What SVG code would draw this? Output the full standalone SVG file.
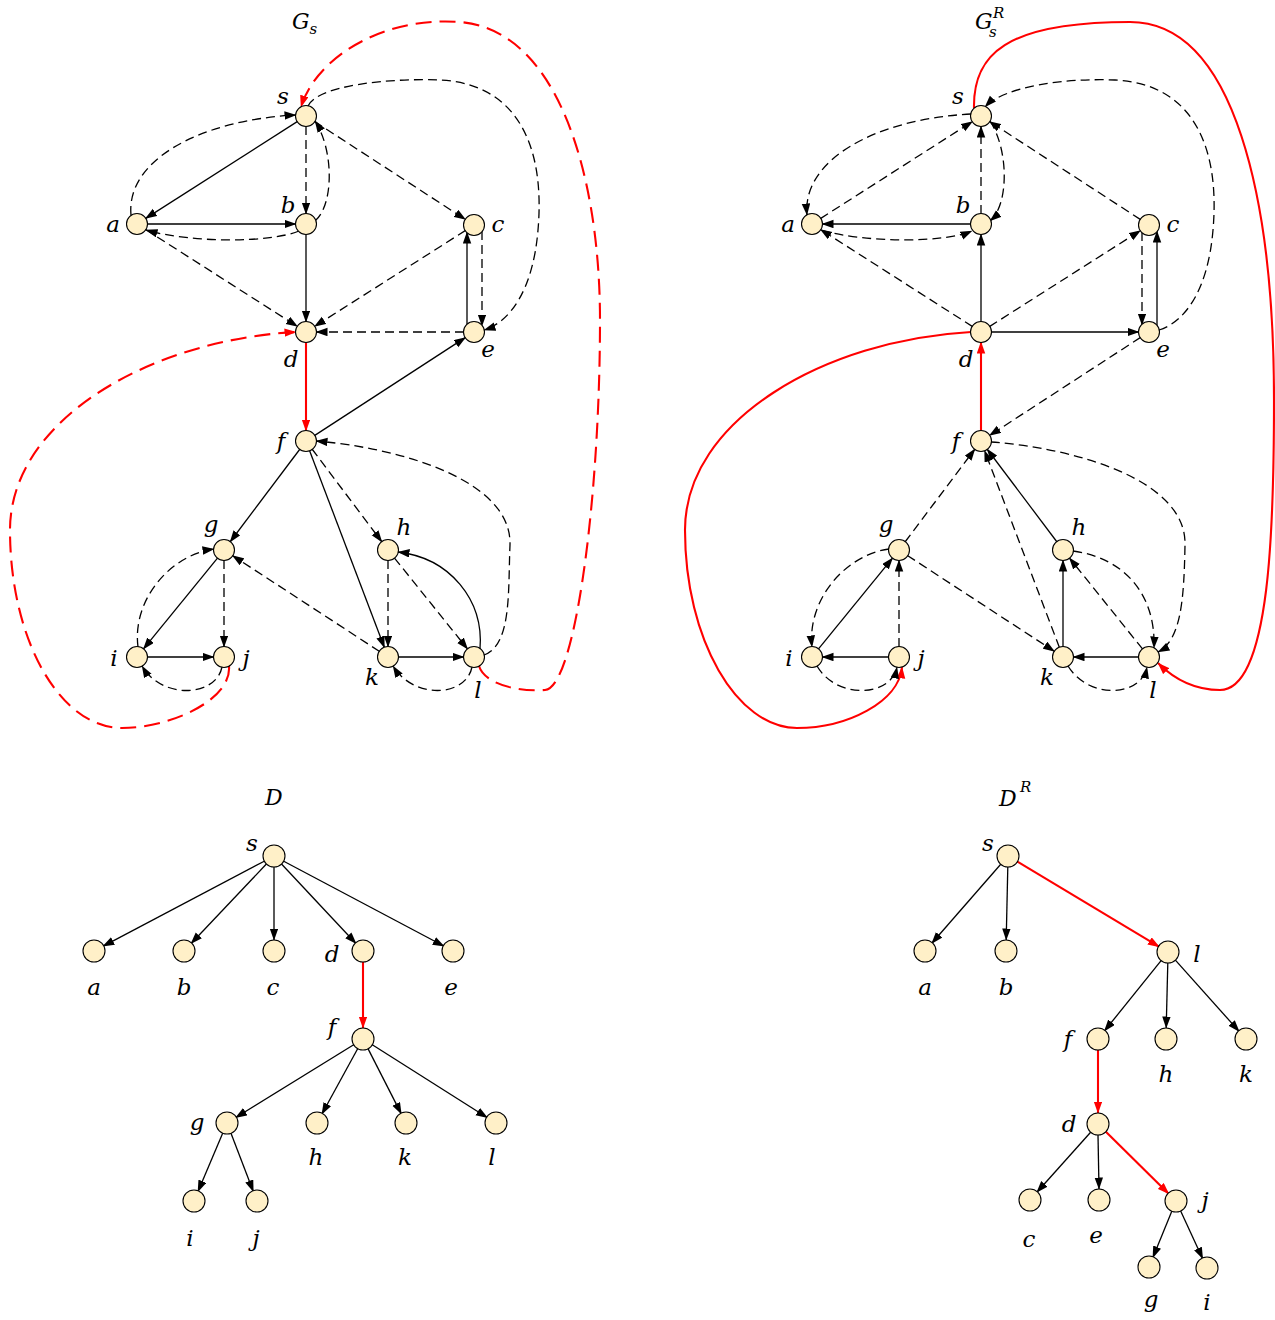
<svg xmlns="http://www.w3.org/2000/svg" width="1275" height="1320" viewBox="0 0 1275 1320">
<style>
.n circle{fill:#fff0c8;stroke:#000;stroke-width:1.1}
.lb{font-family:"DejaVu Serif",serif;font-style:italic;font-size:23px;fill:#000;text-anchor:middle}
.tt{font-family:"DejaVu Serif",serif;font-style:italic;fill:#000}
.e{fill:none;stroke:#000;stroke-width:1.3;marker-end:url(#ah)}
.d{stroke-dasharray:9 5}
.r{stroke:#f00;stroke-width:2.1;marker-end:url(#ahr)}
.rd{stroke-dasharray:16 8}
</style>
<defs>
<marker id="ah" markerUnits="userSpaceOnUse" markerWidth="13" markerHeight="9" refX="11.5" refY="4.25" orient="auto"><path d="M0,0 L12,4.25 L0,8.5 z" fill="#000" stroke="none"/></marker>
<marker id="ahr" markerUnits="userSpaceOnUse" markerWidth="13" markerHeight="9" refX="11.5" refY="4.25" orient="auto"><path d="M0,0 L12,4.25 L0,8.5 z" fill="#f00" stroke="none"/></marker>
</defs>

<!-- ============ G_s ============ -->
<g id="Gs">
<text class="tt" x="292" y="29" font-size="22">G<tspan font-size="15" dy="5">s</tspan></text>
<g id="Gs-edges">
<path class="e" d="M297.6,121.4 L145.4,218.6"/>
<path class="e" d="M147,224 L296,224"/>
<path class="e" d="M306,234 L306,322"/>
<path class="e" d="M314.4,435.6 L465.6,337.4"/>
<path class="e" d="M467,324.9 L467,232.1"/>
<path class="e" d="M300,449 L230,542"/>
<path class="e" d="M309.5,450.4 L384.5,647.7"/>
<path class="e" d="M217.7,557.8 L143.3,649.2"/>
<path class="e" d="M147,657 L214,657"/>
<path class="e" d="M398,657 L464,657"/>
<path class="e" d="M480,649 C484,600 450,558 398,552"/>
<path class="e r" d="M306,342 L306,431"/>
<path class="e d" d="M306,126 L306,214"/>
<path class="e d" d="M314.4,121.4 L465.6,219.6"/>
<path class="e d" d="M145.4,229.4 L297.6,326.6"/>
<path class="e d" d="M465.6,230.4 L314.4,326.6"/>
<path class="e d" d="M464,332 L316,332"/>
<path class="e d" d="M482,231 L482,326"/>
<path class="e d" d="M312,449 L382,542"/>
<path class="e d" d="M388,560 L388,647"/>
<path class="e d" d="M394.3,557.8 L467.7,649.2"/>
<path class="e d" d="M379.6,651.5 L232.4,555.5"/>
<path class="e d" d="M224,560 L224,647"/>
<path class="e d" d="M131,215 C126,160 200,120 296,115"/>
<path class="e d" d="M315,221 C334,205 334,150 315,121"/>
<path class="e d" d="M299,231 C270,243 190,243 146,230"/>
<path class="e d" d="M308,106 C318,85 390,78 440,80 C520,84 545,150 538,230 C533,290 510,322 484,330"/>
<path class="e d" d="M484,655 C512,645 508,590 510,545 C512,480 400,448 316,441"/>
<path class="e d" d="M472,667 C466,697 414,700 393,666"/>
<path class="e d" d="M138,647 C132,600 170,555 214,549"/>
<path class="e d" d="M222,667 C216,697 162,700 142,666"/>
<path class="e r rd" d="M229,666 C232,700 170,728 122,728 C60,728 10,640 10,530 C10,420 150,340 296,332"/>
<path class="e r rd" d="M479,666 C485,685 520,692 545,690 C575,688 600,500 600,320 C600,180 560,30 460,22 C380,16 315,60 301,107"/>
</g>
<g id="Gs-s" class="n"><circle cx="306" cy="116" r="10.5"/><text class="lb" x="283" y="104">s</text></g>
<g id="Gs-a" class="n"><circle cx="137" cy="224" r="10.5"/><text class="lb" x="113" y="232">a</text></g>
<g id="Gs-b" class="n"><circle cx="306" cy="224" r="10.5"/><text class="lb" x="288" y="213">b</text></g>
<g id="Gs-c" class="n"><circle cx="474" cy="225" r="10.5"/><text class="lb" x="498" y="232">c</text></g>
<g id="Gs-d" class="n"><circle cx="306" cy="332" r="10.5"/><text class="lb" x="291" y="367">d</text></g>
<g id="Gs-e" class="n"><circle cx="474" cy="332" r="10.5"/><text class="lb" x="488" y="357">e</text></g>
<g id="Gs-f" class="n"><circle cx="306" cy="441" r="10.5"/><text class="lb" x="281" y="449">f</text></g>
<g id="Gs-g" class="n"><circle cx="224" cy="550" r="10.5"/><text class="lb" x="211" y="532">g</text></g>
<g id="Gs-h" class="n"><circle cx="388" cy="550" r="10.5"/><text class="lb" x="404" y="535">h</text></g>
<g id="Gs-i" class="n"><circle cx="137" cy="657" r="10.5"/><text class="lb" x="114" y="666">i</text></g>
<g id="Gs-j" class="n"><circle cx="224" cy="657" r="10.5"/><text class="lb" x="246" y="666">j</text></g>
<g id="Gs-k" class="n"><circle cx="388" cy="657" r="10.5"/><text class="lb" x="372" y="685">k</text></g>
<g id="Gs-l" class="n"><circle cx="474" cy="657" r="10.5"/><text class="lb" x="478" y="698">l</text></g>
</g>

<!-- ============ G_s^R ============ -->
<g id="GsR" transform="translate(675,0)">
<text class="tt" x="300" y="29" font-size="22">G<tspan x="314" y="37" font-size="15">s</tspan><tspan x="318" y="18" font-size="15">R</tspan></text>
<g id="GsR-edges">
<path class="e" d="M296,224 L147,224"/>
<path class="e" d="M306,322 L306,234"/>
<path class="e" d="M316,332 L464,332"/>
<path class="e" d="M482,326 L482,231"/>
<path class="e" d="M382,542 L312,449"/>
<path class="e" d="M143.3,649.2 L217.7,557.8"/>
<path class="e" d="M214,657 L147,657"/>
<path class="e" d="M388,647 L388,560"/>
<path class="e" d="M464,657 L398,657"/>
<path class="e r" d="M306,431 L306,342"/>
<path class="e r" d="M299,108 C298,55 330,22 455,22 C560,22 599,200 599,400 C599,520 596,690 545,690 C520,690 500,680 483,663"/>
<path class="e r" d="M296,332 C150,340 10,420 10,530 C10,640 62,728 122,728 C172,728 224,702 227,667"/>
<path class="e d" d="M296,114 C200,119 127,160 132,215"/>
<path class="e d" d="M145.4,218.6 L297.6,121.4"/>
<path class="e d" d="M306,214 L306,126"/>
<path class="e d" d="M315,121 C334,150 334,205 315,221"/>
<path class="e d" d="M146,230 C190,243 270,243 297,231"/>
<path class="e d" d="M297.6,326.6 L145.4,229.4"/>
<path class="e d" d="M314.4,326.6 L465.6,230.4"/>
<path class="e d" d="M465.6,219.6 L314.4,121.4"/>
<path class="e d" d="M484,330 C510,322 533,290 538,230 C545,150 520,84 440,80 C390,78 330,86 310,107"/>
<path class="e d" d="M467,232 L467,325"/>
<path class="e d" d="M465.6,337.4 L314.4,435.6"/>
<path class="e d" d="M230,542 L300,449"/>
<path class="e d" d="M384.5,647.7 L309.5,450.4"/>
<path class="e d" d="M316,442 C400,448 512,480 510,545 C509,600 506,640 483,652"/>
<path class="e d" d="M214,549 C170,555 132,600 137,647"/>
<path class="e d" d="M224,647 L224,560"/>
<path class="e d" d="M142,666 C162,700 216,697 222,667"/>
<path class="e d" d="M232.4,555.5 L379.6,651.5"/>
<path class="e d" d="M398,551 C450,558 481,595 479,648"/>
<path class="e d" d="M467.7,649.2 L394.3,557.8"/>
<path class="e d" d="M393,666 C414,700 466,697 472,667"/>
</g>
<g id="GsR-s" class="n"><circle cx="306" cy="116" r="10.5"/><text class="lb" x="283" y="104">s</text></g>
<g id="GsR-a" class="n"><circle cx="137" cy="224" r="10.5"/><text class="lb" x="113" y="232">a</text></g>
<g id="GsR-b" class="n"><circle cx="306" cy="224" r="10.5"/><text class="lb" x="288" y="213">b</text></g>
<g id="GsR-c" class="n"><circle cx="474" cy="225" r="10.5"/><text class="lb" x="498" y="232">c</text></g>
<g id="GsR-d" class="n"><circle cx="306" cy="332" r="10.5"/><text class="lb" x="291" y="367">d</text></g>
<g id="GsR-e" class="n"><circle cx="474" cy="332" r="10.5"/><text class="lb" x="488" y="357">e</text></g>
<g id="GsR-f" class="n"><circle cx="306" cy="441" r="10.5"/><text class="lb" x="281" y="449">f</text></g>
<g id="GsR-g" class="n"><circle cx="224" cy="550" r="10.5"/><text class="lb" x="211" y="532">g</text></g>
<g id="GsR-h" class="n"><circle cx="388" cy="550" r="10.5"/><text class="lb" x="404" y="535">h</text></g>
<g id="GsR-i" class="n"><circle cx="137" cy="657" r="10.5"/><text class="lb" x="114" y="666">i</text></g>
<g id="GsR-j" class="n"><circle cx="224" cy="657" r="10.5"/><text class="lb" x="246" y="666">j</text></g>
<g id="GsR-k" class="n"><circle cx="388" cy="657" r="10.5"/><text class="lb" x="372" y="685">k</text></g>
<g id="GsR-l" class="n"><circle cx="474" cy="657" r="10.5"/><text class="lb" x="478" y="698">l</text></g>
</g>

<!-- ============ D ============ -->
<g id="D">
<text class="tt" x="265" y="805" font-size="22">D</text>
<g id="D-edges">
<path class="e" d="M265.2,860.7 L102.8,946.3"/>
<path class="e" d="M267.1,863.3 L190.9,943.7"/>
<path class="e" d="M274,867 L274,940"/>
<path class="e" d="M280.8,863.3 L356.2,943.7"/>
<path class="e" d="M282.8,860.7 L444.2,946.3"/>
<path class="e r" d="M363,962 L363,1028"/>
<path class="e" d="M354.5,1044.3 L235.5,1117.7"/>
<path class="e" d="M358.2,1047.8 L321.8,1114.2"/>
<path class="e" d="M367.6,1047.9 L401.4,1114.1"/>
<path class="e" d="M371.5,1044.3 L487.5,1117.7"/>
<path class="e" d="M223.1,1132.2 L197.9,1191.8"/>
<path class="e" d="M230.6,1132.3 L253.4,1191.7"/>
</g>
<g id="D-s" class="n"><circle cx="274" cy="856" r="11"/><text class="lb" x="252" y="851">s</text></g>
<g id="D-a" class="n"><circle cx="94" cy="951" r="11"/><text class="lb" x="94" y="995">a</text></g>
<g id="D-b" class="n"><circle cx="184" cy="951" r="11"/><text class="lb" x="184" y="995">b</text></g>
<g id="D-c" class="n"><circle cx="274" cy="951" r="11"/><text class="lb" x="273" y="995">c</text></g>
<g id="D-d" class="n"><circle cx="363" cy="951" r="11"/><text class="lb" x="332" y="962">d</text></g>
<g id="D-e" class="n"><circle cx="453" cy="951" r="11"/><text class="lb" x="451" y="995">e</text></g>
<g id="D-f" class="n"><circle cx="363" cy="1039" r="11"/><text class="lb" x="332" y="1035">f</text></g>
<g id="D-g" class="n"><circle cx="227" cy="1123" r="11"/><text class="lb" x="197" y="1130">g</text></g>
<g id="D-h" class="n"><circle cx="317" cy="1123" r="11"/><text class="lb" x="316" y="1165">h</text></g>
<g id="D-k" class="n"><circle cx="406" cy="1123" r="11"/><text class="lb" x="405" y="1165">k</text></g>
<g id="D-l" class="n"><circle cx="496" cy="1123" r="11"/><text class="lb" x="492" y="1165">l</text></g>
<g id="D-i" class="n"><circle cx="194" cy="1201" r="11"/><text class="lb" x="190" y="1246">i</text></g>
<g id="D-j" class="n"><circle cx="257" cy="1201" r="11"/><text class="lb" x="256" y="1246">j</text></g>
</g>

<!-- ============ D^R ============ -->
<g id="DR">
<text class="tt" x="999" y="806" font-size="22">D<tspan x="1020" y="792" font-size="15">R</tspan></text>
<g id="DR-edges">
<path class="e" d="M1001.4,863.5 L931.6,943.5"/>
<path class="e" d="M1007.8,867 L1006.2,940"/>
<path class="e r" d="M1016.6,861.1 L1159.4,946.9"/>
<path class="e" d="M1161.7,959.8 L1104.3,1031.2"/>
<path class="e" d="M1167.8,963 L1166.2,1028"/>
<path class="e" d="M1174.7,959.4 L1239.3,1031.6"/>
<path class="e r" d="M1098,1050 L1098,1113"/>
<path class="e" d="M1091.3,1131.5 L1036.7,1192.5"/>
<path class="e" d="M1098,1135 L1099,1189"/>
<path class="e r" d="M1105.1,1131 L1168.9,1194"/>
<path class="e" d="M1172.2,1210.3 L1152.8,1257.7"/>
<path class="e" d="M1180.2,1210.1 L1202.8,1258.9"/>
</g>
<g id="DR-s" class="n"><circle cx="1008" cy="856" r="11"/><text class="lb" x="988" y="851">s</text></g>
<g id="DR-a" class="n"><circle cx="925" cy="951" r="11"/><text class="lb" x="925" y="995">a</text></g>
<g id="DR-b" class="n"><circle cx="1006" cy="951" r="11"/><text class="lb" x="1006" y="995">b</text></g>
<g id="DR-l" class="n"><circle cx="1168" cy="952" r="11"/><text class="lb" x="1197" y="962">l</text></g>
<g id="DR-f" class="n"><circle cx="1098" cy="1039" r="11"/><text class="lb" x="1068" y="1047">f</text></g>
<g id="DR-h" class="n"><circle cx="1166" cy="1039" r="11"/><text class="lb" x="1166" y="1082">h</text></g>
<g id="DR-k" class="n"><circle cx="1246" cy="1039" r="11"/><text class="lb" x="1246" y="1082">k</text></g>
<g id="DR-d" class="n"><circle cx="1098" cy="1124" r="11"/><text class="lb" x="1069" y="1132">d</text></g>
<g id="DR-c" class="n"><circle cx="1030" cy="1200" r="11"/><text class="lb" x="1029" y="1247">c</text></g>
<g id="DR-e" class="n"><circle cx="1099" cy="1200" r="11"/><text class="lb" x="1096" y="1243">e</text></g>
<g id="DR-j" class="n"><circle cx="1176" cy="1201" r="11"/><text class="lb" x="1205" y="1208">j</text></g>
<g id="DR-g" class="n"><circle cx="1149" cy="1267" r="11"/><text class="lb" x="1151" y="1307">g</text></g>
<g id="DR-i" class="n"><circle cx="1207" cy="1268" r="11"/><text class="lb" x="1207" y="1310">i</text></g>
</g>
</svg>
